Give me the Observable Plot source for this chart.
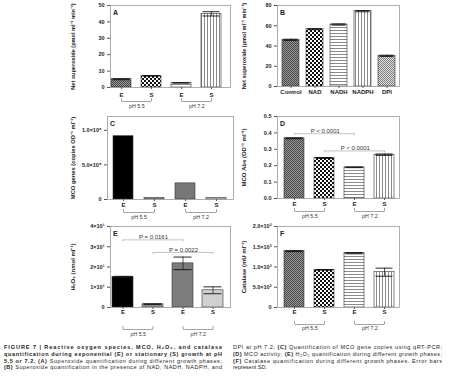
<!DOCTYPE html>
<html><head><meta charset="utf-8">
<script src="https://cdn.jsdelivr.net/npm/d3@7"></script>
<script src="https://cdn.jsdelivr.net/npm/@observablehq/plot@0.6"></script>
<style>
body{margin:0;background:#fff;}
#fig{position:relative;width:459px;height:381px;overflow:hidden;font-family:"Liberation Sans",Arial,sans-serif;}
.pn{position:absolute;}
.pn svg{background:transparent !important;max-width:none !important;overflow:visible !important;}
</style></head><body>
<svg width="0" height="0" style="position:absolute">
<defs>
<pattern id="pDense" width="2" height="2" patternUnits="userSpaceOnUse">
<rect width="2" height="2" fill="#9a9a9a"/><rect width="1" height="1" fill="#464646"/><rect x="1" y="1" width="1" height="1" fill="#464646"/>
</pattern>
<pattern id="pChecker" width="4" height="4" patternUnits="userSpaceOnUse">
<rect width="4" height="4" fill="#fff"/><rect width="2" height="2" fill="#111"/><rect x="2" y="2" width="2" height="2" fill="#111"/>
</pattern>
<pattern id="pHoriz" width="3" height="3" patternUnits="userSpaceOnUse">
<rect width="3" height="3" fill="#fff"/><rect width="3" height="1" fill="#8a8a8a"/>
</pattern>
<pattern id="pVert" width="3" height="3" patternUnits="userSpaceOnUse">
<rect width="3" height="3" fill="#fff"/><rect width="1" height="3" fill="#8a8a8a"/>
</pattern>
<pattern id="pFine" width="2" height="2" patternUnits="userSpaceOnUse">
<rect width="2" height="2" fill="#e4e4e4"/><rect width="1" height="1" fill="#7a7a7a"/><rect x="1" y="1" width="1" height="1" fill="#7a7a7a"/>
</pattern>
</defs>
</svg>
<div id="fig"></div>
<script>
// ---------- data ----------
const phases = ["E", "S", "E", "S"];
const phGroups = ["pH 5.5", "pH 5.5", "pH 7.2", "pH 7.2"];

const superoxideA = [5.05, 7.1, 2.8, 44.9];
const superoxideAErr = [0.3, 0.2, 0.15, 1.3];
const superoxideATicks = [0, 10, 20, 30, 40, 50];

const treatmentsB = ["Control", "NAD", "NADH", "NADPH", "DPI"];
const superoxideB = [46.1, 56.6, 61.2, 74.4, 30.3];
const superoxideBErr = [0.6, 0.5, 0.6, 0.6, 0.6];
const superoxideBTicks = [0, 20, 40, 60, 80];

const mcoGenes = [915000, 20000, 233000, 20000];
const mcoGenesTicks = [0, 500000, 1000000];
const mcoGenesTickLabels = ["0", "5.0×10⁵", "1.0×10⁶"];

const mcoAbs = [0.367, 0.247, 0.19, 0.267];
const mcoAbsErr = [0.003, 0.003, 0.002, 0.004];
const mcoAbsTicks = [0, 0.1, 0.2, 0.3, 0.4, 0.5];
const sigD = [
  {a: 0, b: 2, level: 0.395, label: "P < 0.0001"},
  {a: 1, b: 3, level: 0.29, label: "P < 0.0001"}
];

const h2o2 = [15.1, 1.6, 21.8, 8.5];
const h2o2Err = [0.3, 0.2, 3.1, 1.7];
const h2o2Ticks = [0, 10, 20, 30, 40];
const h2o2TickLabels = ["0", "1×10¹", "2×10¹", "3×10¹", "4×10¹"];
const sigE = [
  {a: 0, b: 2, level: 33.4, label: "P = 0.0161"},
  {a: 1, b: 3, level: 27.2, label: "P = 0.0022"}
];

const catalase = [1391, 930, 1341, 872];
const catalaseErr = [10, 8, 15, 100];
const catalaseTicks = [0, 500, 1000, 1500, 2000];
const catalaseTickLabels = ["0", "5.0×10²", "1.0×10³", "1.5×10³", "2.0×10³"];

const captionLeft = [
  [["FIGURE 7 | Reactive oxygen species, MCO, H₂O₂, and catalase", 1]],
  [["quantification during exponential (E) or stationary (S) growth at pH", 1]],
  [["5.5 or 7.2.", 1], [" ", 0], ["(A)", 1], [" Superoxide quantification during different growth phases;", 0]],
  [["(B)", 1], [" Superoxide quantification in the presence of NAD, NADH, NADPH, and", 0]]
];
const captionRight = [
  [["DPI at pH 7.2; ", 0], ["(C)", 1], [" Quantification of MCO gene copies using qRT-PCR;", 0]],
  [["(D)", 1], [" MCO activity; ", 0], ["(E)", 1], [" H₂O₂ quantification during different growth phases;", 0]],
  [["(F)", 1], [" Catalase quantification during different growth phases. Error bars", 0]],
  [["represent SD.", 0]]
];

// ---------- styles ----------
const patFills4 = ["url(#pDense)", "url(#pChecker)", "url(#pHoriz)", "url(#pVert)"];
const patFills5 = ["url(#pDense)", "url(#pChecker)", "url(#pHoriz)", "url(#pVert)", "url(#pFine)"];
const greyFillsC = ["#000", "#8e8e8e", "#777", "#c8c8c8"];
const greyFillsE = ["#000", "#9e9e9e", "#7c7c7c", "#d0d0d0"];
const FONT = '"Liberation Sans", Arial, Helvetica, sans-serif';

const phaseKeys = phases.map((p, i) => `${phGroups[i]} ${p}`);
const lastWord = k => k.split(" ").pop();

function makePanel(p) {
  const n = p.keys.length;
  const fw = p.width - p.ml - p.mr;
  const fh = p.height - p.mt - p.mb;
  const step = fw / (n - p.pi + 2 * p.po);
  const upp = (p.yDomain[1] - p.yDomain[0]) / fh;
  const rows = p.keys.map((k, i) => ({key: k, value: p.values[i], err: p.errs ? p.errs[i] : 0, fill: p.fills[i]}));
  const errRows = rows.filter(d => d.err > 0).map(d => ({...d, lo: d.value - d.err, hi: d.value + d.err}));
  const marks = [
    Plot.barY(rows, {x: "key", y: "value", fill: "fill", stroke: "#333", strokeWidth: 0.6}),
    Plot.ruleX(errRows, {x: "key", y1: "lo", y2: "hi", stroke: "#111", strokeWidth: 0.7}),
    Plot.tickY(errRows, {x: "key", y: "hi", stroke: "#111", strokeWidth: 0.9, insetLeft: 1.5, insetRight: 1.5}),
    Plot.tickY(errRows, {x: "key", y: "lo", stroke: "#111", strokeWidth: 0.9, insetLeft: 1.5, insetRight: 1.5}),
    Plot.frame({stroke: "#9a9a9a", strokeWidth: 0.8}),
    Plot.axisY({ticks: p.yTicks, tickFormat: p.yFormat, tickSize: 3, tickPadding: 3, label: null, fontSize: 5.5, stroke: "#555"}),
    Plot.axisX({tickSize: 2, tickPadding: p.xPad, tickFormat: p.xFormat, label: null, fontSize: 6, stroke: "#555"}),
    Plot.text([p.ylabel], {frameAnchor: "left", textAnchor: "middle", lineAnchor: "middle", rotate: -90, dx: p.ylDx, fontSize: p.ylSize ?? 6, text: d => d}),
    Plot.text([p.letter], {frameAnchor: "top-left", dx: 2.5, dy: 4.5, fontSize: 7, text: d => d})
  ];
  if (p.groups) {
    const names = [...new Set(p.groupOf)];
    const g = names.map(name => {
      const idx = p.groupOf.map((v, i) => v === name ? i : -1).filter(i => i >= 0);
      return {a: p.keys[idx[0]], b: p.keys[idx[idx.length - 1]], label: name};
    });
    const yB = -p.bracketPx * upp;
    const yT = yB + 3 * upp;
    marks.push(Plot.link(g, {x1: "a", x2: "b", y1: yB, y2: yB, stroke: "#666", strokeWidth: 0.6}));
    marks.push(Plot.ruleX(g, {x: "a", y1: yB, y2: yT, stroke: "#666", strokeWidth: 0.6}));
    marks.push(Plot.ruleX(g, {x: "b", y1: yB, y2: yT, stroke: "#666", strokeWidth: 0.6}));
    marks.push(Plot.text(g, {x: "a", y: -p.labelPx * upp, dx: step / 2, text: "label", fontWeight: "normal", fontSize: 5.3, fill: "#333"}));
  }
  if (p.sig) {
    const s = p.sig.map(d => ({...d, ka: p.keys[d.a], kb: p.keys[d.b], low: d.level - 2 * upp}));
    marks.push(Plot.link(s, {x1: "ka", x2: "kb", y1: "level", y2: "level", stroke: "#aaa", strokeWidth: 0.7}));
    marks.push(Plot.ruleX(s, {x: "ka", y1: "low", y2: "level", stroke: "#aaa", strokeWidth: 0.7}));
    marks.push(Plot.ruleX(s, {x: "kb", y1: "low", y2: "level", stroke: "#aaa", strokeWidth: 0.7}));
    marks.push(Plot.text(s, {x: "ka", y: "level", dx: step, dy: -2.8, text: "label", fontWeight: "normal", fontSize: 6, fill: "#333"}));
  }
  const plot = Plot.plot({
    width: p.width, height: p.height,
    marginLeft: p.ml, marginRight: p.mr, marginTop: p.mt, marginBottom: p.mb,
    style: {fontFamily: FONT, fontWeight: "bold", color: "#222", background: "transparent", overflow: "visible"},
    x: {type: "band", domain: p.keys, paddingInner: p.pi, paddingOuter: p.po, align: p.align, axis: null},
    y: {domain: p.yDomain, axis: null},
    color: {type: "identity"},
    marks
  });
  const div = document.createElement("div");
  div.className = "pn";
  div.style.left = p.left + "px";
  div.style.top = p.top + "px";
  div.style.width = p.width + "px";
  div.style.height = p.height + "px";
  div.appendChild(plot);
  document.getElementById("fig").appendChild(div);
}

const fmtFrom = (ticks, labels) => d => labels[ticks.findIndex(t => Math.abs(t - d) < 1e-9)] ?? "";

makePanel({left: 60, top: 0, width: 176, height: 115, ml: 50, mr: 6, mt: 5, mb: 28,
  keys: phaseKeys, groupOf: phGroups, groups: true, xFormat: lastWord,
  values: superoxideA, errs: superoxideAErr, fills: patFills4,
  yDomain: [0, 50], yTicks: superoxideATicks, yFormat: d => String(d),
  ylabel: "Net superoxide (pmol ml⁻¹ min⁻¹)", ylDx: -37, ylSize: 5.6, letter: "A",
  pi: 0.32, po: 0.108, align: 0.15, xPad: 3, bracketPx: 14, labelPx: 19});

makePanel({left: 232, top: 0, width: 172, height: 110, ml: 45, mr: 5, mt: 5, mb: 24,
  keys: treatmentsB, xFormat: d => d,
  values: superoxideB, errs: superoxideBErr, fills: patFills5,
  yDomain: [0, 80], yTicks: superoxideBTicks, yFormat: d => String(d),
  ylabel: "Net superoxide (pmol ml⁻¹ min⁻¹)", ylDx: -33, ylSize: 5.6, letter: "B",
  pi: 0.3, po: 0.166, align: 0.55, xPad: 1});

makePanel({left: 60, top: 110, width: 178, height: 115, ml: 47, mr: 5, mt: 6, mb: 26,
  keys: phaseKeys, groupOf: phGroups, groups: true, xFormat: lastWord,
  values: mcoGenes, errs: null, fills: greyFillsC,
  yDomain: [0, 1200000], yTicks: mcoGenesTicks, yFormat: fmtFrom(mcoGenesTicks, mcoGenesTickLabels),
  ylabel: "MCO genes (copies OD⁻¹ ml⁻¹)", ylDx: -34, ylSize: 5.8, letter: "C",
  pi: 0.34, po: 0.2, align: 0.5, xPad: 1, bracketPx: 13, labelPx: 18});

makePanel({left: 232, top: 110, width: 172, height: 115, ml: 45, mr: 5, mt: 6, mb: 27,
  keys: phaseKeys, groupOf: phGroups, groups: true, xFormat: lastWord,
  values: mcoAbs, errs: mcoAbsErr, fills: patFills4,
  yDomain: [0, 0.5], yTicks: mcoAbsTicks, yFormat: d => d.toFixed(1),
  ylabel: "MCO Abs (OD⁻¹ ml⁻¹)", ylDx: -33, letter: "D",
  pi: 0.34, po: 0.15, align: 0.55, xPad: 1, bracketPx: 13, labelPx: 18, sig: sigD});

makePanel({left: 60, top: 220, width: 176, height: 120, ml: 50, mr: 6, mt: 6, mb: 33,
  keys: phaseKeys, groupOf: phGroups, groups: true, xFormat: lastWord,
  values: h2o2, errs: h2o2Err, fills: greyFillsE,
  yDomain: [0, 40], yTicks: h2o2Ticks, yFormat: fmtFrom(h2o2Ticks, h2o2TickLabels),
  ylabel: "H₂O₂ (nmol ml⁻¹)", ylDx: -37, letter: "E",
  pi: 0.31, po: 0.122, align: 0.25, xPad: 0, bracketPx: 22, labelPx: 27, sig: sigE});

makePanel({left: 232, top: 220, width: 172, height: 118, ml: 45, mr: 5, mt: 6, mb: 31,
  keys: phaseKeys, groupOf: phGroups, groups: true, xFormat: lastWord,
  values: catalase, errs: catalaseErr, fills: patFills4,
  yDomain: [0, 2000], yTicks: catalaseTicks, yFormat: fmtFrom(catalaseTicks, catalaseTickLabels),
  ylabel: "Catalase (mU ml⁻¹)", ylDx: -33, letter: "F",
  pi: 0.34, po: 0.15, align: 0.55, xPad: 0, bracketPx: 17, labelPx: 21});

// ---------- caption ----------
const cap = d3.select("#fig").append("svg")
  .attr("width", 459).attr("height", 46)
  .style("position", "absolute").style("left", "0px").style("top", "335px")
  .style("font-family", FONT).style("font-size", "5.5px").style("fill", "#222");
function capCol(lines, x, w, justifyLast) {
  lines.forEach((segs, i) => {
    const t = cap.append("text").attr("x", x).attr("y", 14.3 + i * 6.68);
    if (i < lines.length - 1 || justifyLast) {
      t.attr("textLength", w).attr("lengthAdjust", "spacing");
    }
    segs.forEach(([s, b]) => t.append("tspan").attr("font-weight", b ? "bold" : "normal").text(s));
  });
}
capCol(captionLeft, 4, 218, true);
capCol(captionRight, 233, 209, false);
</script>
</body></html>
